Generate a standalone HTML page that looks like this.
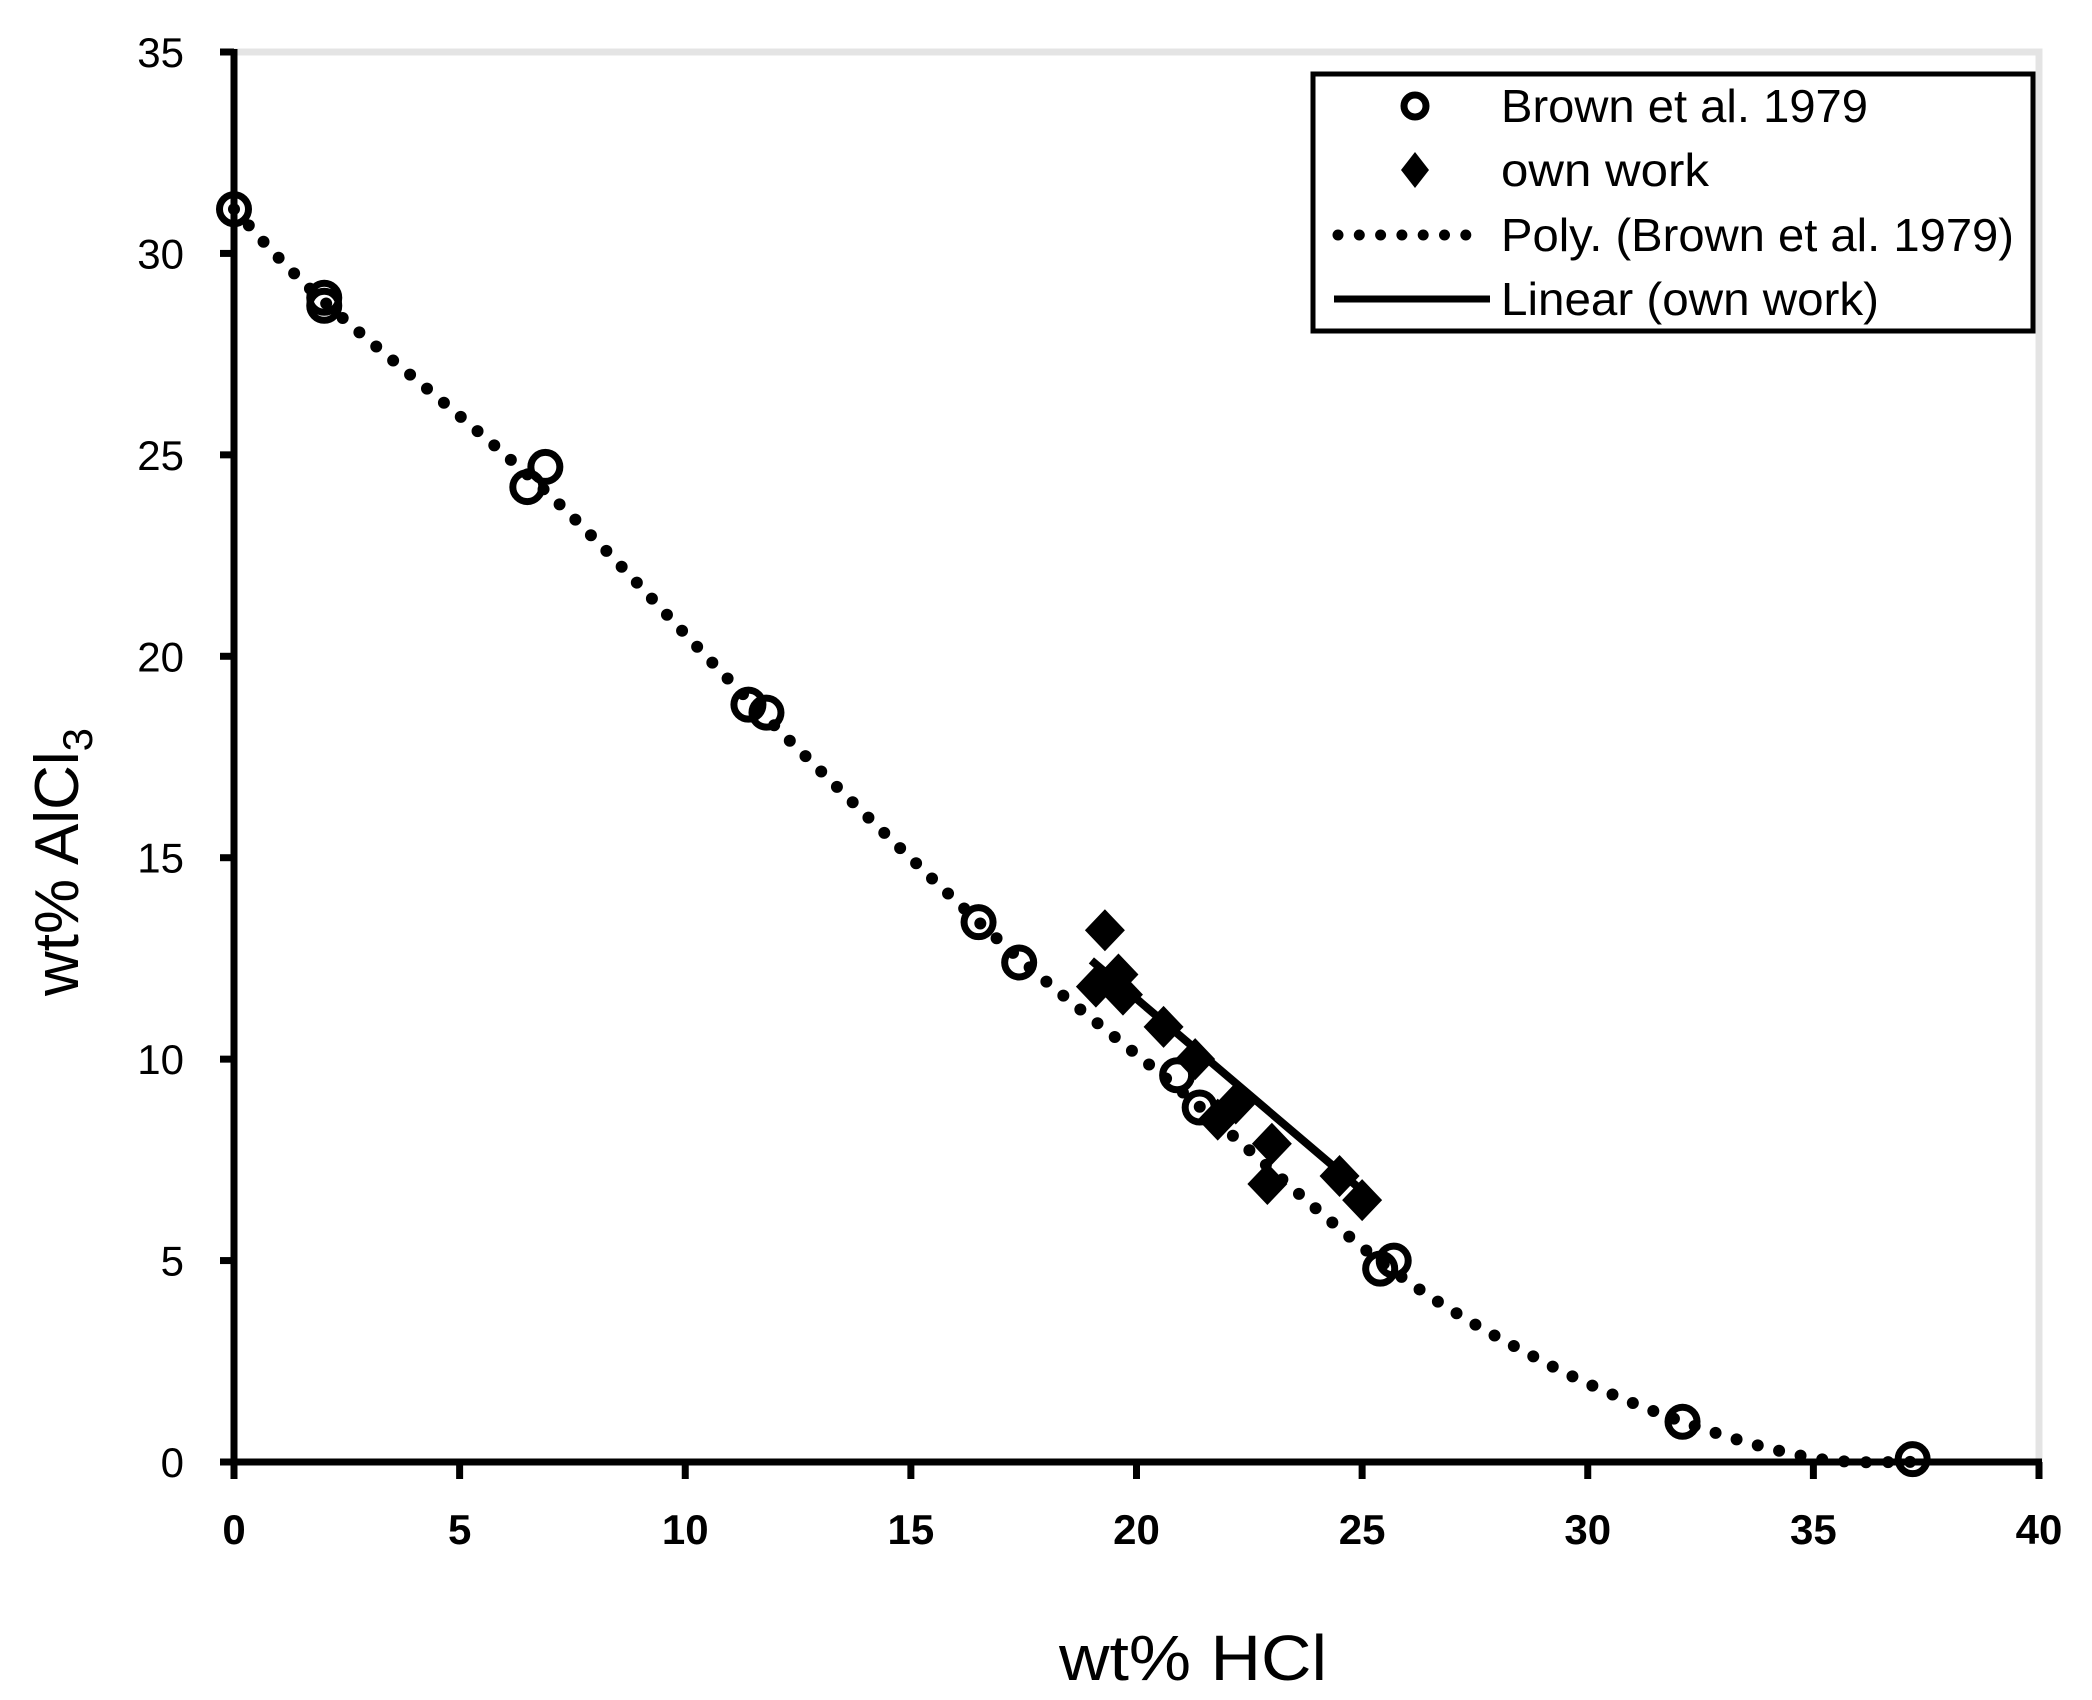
<!DOCTYPE html>
<html><head><meta charset="utf-8"><style>
html,body{margin:0;padding:0;background:#fff;}
svg{display:block;}
text{font-family:"Liberation Sans",sans-serif;fill:#000;}
</style></head><body>
<svg id="s" width="2092" height="1700" viewBox="0 0 2092 1700" xmlns="http://www.w3.org/2000/svg">
<rect x="0" y="0" width="2092" height="1700" fill="#fff"/>
<polyline points="234,52 2039,52 2039,1462" fill="none" stroke="#e4e4e4" stroke-width="7"/>
<g id="curves"></g>
<g id="pts"></g>
<line x1="234" y1="49" x2="234" y2="1475" stroke="#000" stroke-width="7"/>
<line x1="220" y1="1462" x2="2042" y2="1462" stroke="#000" stroke-width="7"/>
<g id="ticks" stroke="#000" stroke-width="7"></g>
<g id="labels"></g>
<!-- legend -->
<rect x="1313" y="74" width="720" height="257" fill="#fff" stroke="#000" stroke-width="5"/>
<circle cx="1415" cy="106" r="11" fill="none" stroke="#000" stroke-width="7"/>
<polygon points="1415,152 1429,170 1415,188 1401,170" fill="#000"/>
<line x1="1338" y1="235" x2="1487" y2="235" stroke="#000" stroke-width="11" stroke-linecap="round" stroke-dasharray="0 21.3"/>
<line x1="1334" y1="299" x2="1490" y2="299" stroke="#000" stroke-width="7"/>
<text x="1501" y="122" font-size="46" textLength="367" lengthAdjust="spacingAndGlyphs">Brown et al. 1979</text>
<text x="1501" y="186" font-size="46" textLength="208" lengthAdjust="spacingAndGlyphs">own work</text>
<text x="1501" y="251" font-size="46" textLength="513" lengthAdjust="spacingAndGlyphs">Poly. (Brown et al. 1979)</text>
<text x="1501" y="315" font-size="46" textLength="378" lengthAdjust="spacingAndGlyphs">Linear (own work)</text>
<text x="1193" y="1680" font-size="64" text-anchor="middle" textLength="268" lengthAdjust="spacingAndGlyphs">wt% HCl</text>
<text transform="translate(78,862) rotate(-90)" font-size="62" text-anchor="middle">wt% AlCl<tspan font-size="42" dy="14">3</tspan></text>
</svg>
<script>
var NS="http://www.w3.org/2000/svg";
function X(v){return 234+v*45.125;}
function Y(v){return 1462-v*40.286;}
function el(t,a,p){var e=document.createElementNS(NS,t);for(var k in a)e.setAttribute(k,a[k]);document.getElementById(p).appendChild(e);return e;}
for(var i=0;i<=7;i++){var v=i*5,y=Y(v);
 el("line",{x1:220,y1:y,x2:234,y2:y},"ticks");
 var t=el("text",{x:184,y:y+15,"font-size":42,"text-anchor":"end"},"labels");t.textContent=v;}
for(var i=0;i<=8;i++){var v=i*5,x=X(v);
 el("line",{x1:x,y1:1462,x2:x,y2:1479},"ticks");
 var t=el("text",{x:x,y:1544,"font-size":42,"font-weight":"bold","text-anchor":"middle"},"labels");t.textContent=v;}
var cp=[[0,31.1],[2,28.8],[7,24.0],[11.6,18.7],[16.9,13.0],[21,9.2],[25.5,4.9],[29,2.5],[32.1,1.0],[35,0.1],[37.2,0]];
var pts=[];
for(var i=0;i<cp.length-1;i++){var p0=cp[Math.max(0,i-1)],p1=cp[i],p2=cp[i+1],p3=cp[Math.min(cp.length-1,i+2)];
 for(var s=0;s<20;s++){var t=s/20,t2=t*t,t3=t2*t;
  var f=function(a,b,c,d){return 0.5*((2*b)+(-a+c)*t+(2*a-5*b+4*c-d)*t2+(-a+3*b-3*c+d)*t3);};
  pts.push([f(p0[0],p1[0],p2[0],p3[0]),f(p0[1],p1[1],p2[1],p3[1])]);}}
pts.push(cp[cp.length-1]);
el("polyline",{points:pts.map(function(p){return X(p[0]).toFixed(1)+","+Y(p[1]).toFixed(1);}).join(" "),fill:"none",stroke:"#000","stroke-width":12,"stroke-linecap":"round","stroke-dasharray":"0 22"},"curves");
el("line",{x1:X(19.0),y1:Y(12.45),x2:X(25.3),y2:Y(6.45),stroke:"#000","stroke-width":8},"curves");
var C=[[0,31.1],[2.0,28.9],[2.0,28.7],[6.5,24.2],[6.9,24.7],[11.4,18.8],[11.8,18.6],[16.5,13.4],[17.4,12.4],[20.9,9.6],[21.4,8.8],[25.4,4.8],[25.7,5.0],[32.1,1.0],[37.2,0.07]];
C.forEach(function(p){el("circle",{cx:X(p[0]),cy:Y(p[1]),r:14.5,fill:"none",stroke:"#000","stroke-width":7},"pts");});
var D=[[19.3,13.2],[19.1,11.8],[19.6,12.1],[19.7,11.6],[20.6,10.8],[21.3,10.0],[22.2,8.9],[21.8,8.5],[23.0,7.9],[22.9,6.9],[24.5,7.1],[25.0,6.5]];
D.forEach(function(p){var x=X(p[0]),y=Y(p[1]);el("polygon",{points:[x,y-21,x+20,y,x,y+21,x-20,y].join(","),fill:"#000"},"pts");});
</script>
</body></html>
